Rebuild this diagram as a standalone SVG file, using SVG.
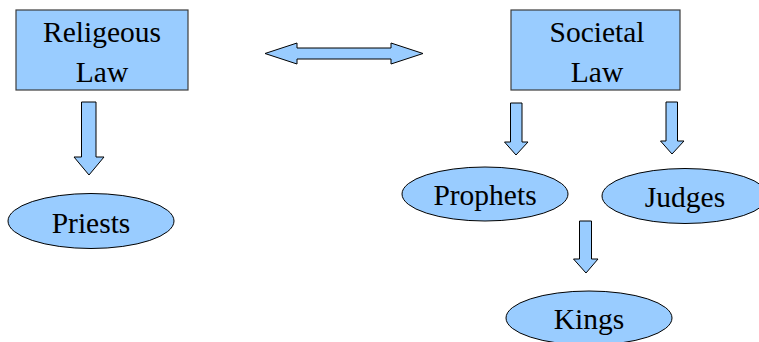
<svg xmlns="http://www.w3.org/2000/svg" width="759" height="342" viewBox="0 0 759 342">
<style>
.box{fill:#99ccff;stroke:#3c3c3c;stroke-width:1.2}
.ell{fill:#99ccff;stroke:#000;stroke-width:1}
.arr{fill:#99ccff;stroke:#000;stroke-width:1;stroke-linejoin:miter}
.t{font-family:"Liberation Serif","Times New Roman",serif;font-size:29.5px;fill:#000;text-anchor:middle}
</style>
<rect width="759" height="342" fill="#fff"/>
<g id="religious-law">
<rect class="box" x="16" y="10" width="172" height="80"/>
<text class="t" x="102" y="42">Religeous</text>
<text class="t" x="102" y="82">Law</text>
</g>
<g id="societal-law">
<rect class="box" x="511" y="10" width="169" height="80"/>
<text class="t" x="597" y="42">Societal</text>
<text class="t" x="597" y="82">Law</text>
</g>
<g id="priests">
<ellipse class="ell" cx="91" cy="221" rx="83" ry="27.5"/>
<text class="t" x="91" y="233">Priests</text>
</g>
<g id="prophets">
<ellipse class="ell" cx="485" cy="194" rx="83" ry="27"/>
<text class="t" x="485" y="205">Prophets</text>
</g>
<g id="judges">
<ellipse class="ell" cx="685" cy="196" rx="83" ry="27.5"/>
<text class="t" x="685" y="207">Judges</text>
</g>
<g id="kings">
<ellipse class="ell" cx="589" cy="318" rx="83" ry="27"/>
<text class="t" x="589" y="329">Kings</text>
</g>
<g id="connectors">
<path class="arr" d="M265,53.5 L297,43 L297,48 L391,48 L391,43 L423,53.5 L391,64 L391,59 L297,59 L297,64 Z"/>
<path class="arr" d="M81.5,102 L96,102 L96,157 L104,157 L89,175 L74,157 L81.5,157 Z"/>
<path class="arr" d="M510.5,103 L522,103 L522,142 L528,142 L516,155 L504.5,142 L510.5,142 Z"/>
<path class="arr" d="M666,102 L677.5,102 L677.5,141 L684,141 L672,154 L660.5,141 L666,141 Z"/>
<path class="arr" d="M579.5,221 L591.5,221 L591.5,259 L598,259 L586,273 L573.5,259 L579.5,259 Z"/>
</g>
</svg>
